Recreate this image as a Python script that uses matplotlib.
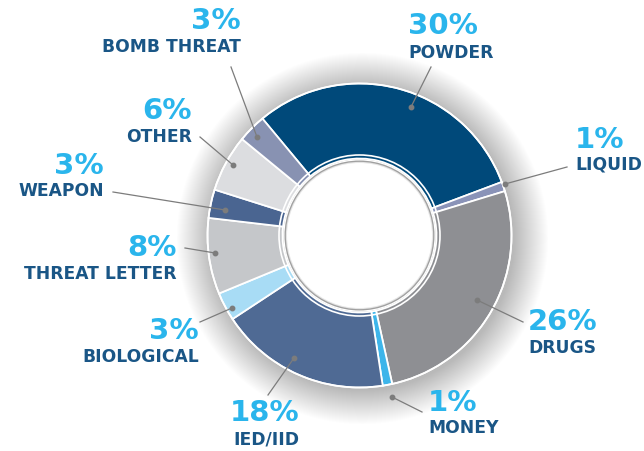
import matplotlib
matplotlib.use("Agg")
import matplotlib.pyplot as plt
from matplotlib.patches import Circle
import numpy as np

# ---- data ----
categories = ["POWDER", "LIQUID", "DRUGS", "MONEY", "IED/IID",
              "BIOLOGICAL", "THREAT LETTER", "WEAPON", "OTHER", "BOMB THREAT"]
values = [30, 1, 26, 1, 18, 3, 8, 3, 6, 3]
pct_labels = ["30%", "1%", "26%", "1%", "18%", "3%", "8%", "3%", "6%", "3%"]

# ---- style ----
colors = ["#00497a", "#8a93b8", "#8e8f93", "#3db5ea", "#4f6a94",
          "#a8dcf5", "#c5c7ca", "#4a6591", "#dcdde0", "#8892b2"]
PCT_COLOR = "#2ab5ec"
NAME_COLOR = "#1a5686"
LINE_COLOR = "#7c7c7c"

W, H = 644, 451
fig = plt.figure(figsize=(W / 100, H / 100), dpi=100)
ax = fig.add_axes([0, 0, 1, 1])

def P(x, y):
    return (x, H - y)

cx, cy = P(359.5, 235.5)
R_OUT = 152
R_IN = 77

# soft drop shadow
for r in np.linspace(R_OUT + 34, R_OUT, 70):
    ax.add_patch(Circle((cx + 3, cy - 3), r, color="#000000", alpha=0.002, lw=0, zorder=0))

wedges, _ = ax.pie(values, colors=colors, radius=R_OUT, center=(cx, cy),
                   startangle=129.7, counterclock=False,
                   wedgeprops=dict(width=R_OUT - R_IN, edgecolor="white", linewidth=1.3),
                   frame=True)
ax.set_xlim(0, W)
ax.set_ylim(0, H)
ax.set_aspect("equal")
ax.axis("off")

# outer white rim
ax.add_patch(Circle((cx, cy), R_OUT, fill=False, ec="white", lw=1.2, zorder=5))
# inner white line separating thin inner band
ax.add_patch(Circle((cx, cy), 80.5, fill=False, ec="white", lw=1.2, zorder=5))
# inner hole
ax.add_patch(Circle((cx, cy), 76.2, fc="white", ec="white", lw=0, zorder=6))
ax.add_patch(Circle((cx, cy), 74.3, fill=False, ec="#8a8a8a", lw=1.0, alpha=0.8, zorder=7))
ax.add_patch(Circle((cx, cy), 73.2, fill=False, ec="#9a9a9a", lw=1.0, alpha=0.25, zorder=7))

# label layout: (pct center y, name center y, anchor x, ha)
layout = {
    "POWDER": (26, 53, 408, "left"),
    "LIQUID": (140, 165, 575, "left"),
    "DRUGS": (322, 348, 528, "left"),
    "MONEY": (403, 428, 428, "left"),
    "IED/IID": (413, 440, 299, "right"),
    "BIOLOGICAL": (331, 357, 199, "right"),
    "THREAT LETTER": (248, 274, 177, "right"),
    "WEAPON": (166, 191, 104, "right"),
    "OTHER": (111, 137, 192, "right"),
    "BOMB THREAT": (21, 47, 241, "right"),
}
leaders = {
    "POWDER": ((411, 107), (431, 67)),
    "LIQUID": ((505, 184), (567, 167)),
    "DRUGS": ((477, 300), (523, 322)),
    "MONEY": ((392, 397), (422, 412)),
    "IED/IID": ((294, 358), (268, 395)),
    "BIOLOGICAL": ((232, 308), (200, 322)),
    "THREAT LETTER": ((215, 253), (185, 248)),
    "WEAPON": ((225, 210), (113, 192)),
    "OTHER": ((233, 165), (200, 137)),
    "BOMB THREAT": ((257, 137), (231, 67)),
}

for name, pct in zip(categories, pct_labels):
    py, ny, x, ha = layout[name]
    ax.text(*P(x, py), pct, ha=ha, va="center", fontsize=21, fontweight="bold",
            color=PCT_COLOR, family="DejaVu Sans", zorder=10)
    ax.text(*P(x, ny), name, ha=ha, va="center", fontsize=12.3, fontweight="bold",
            color=NAME_COLOR, family="DejaVu Sans", zorder=10)
    (x0, y0), (x1, y1) = leaders[name]
    ax.plot([x0, x1], [H - y0, H - y1], color=LINE_COLOR, lw=0.9, zorder=9)
    ax.plot([x0], [H - y0], "o", color=LINE_COLOR, ms=3.2, zorder=9)

fig.savefig("out.png", dpi=100, facecolor="white")
